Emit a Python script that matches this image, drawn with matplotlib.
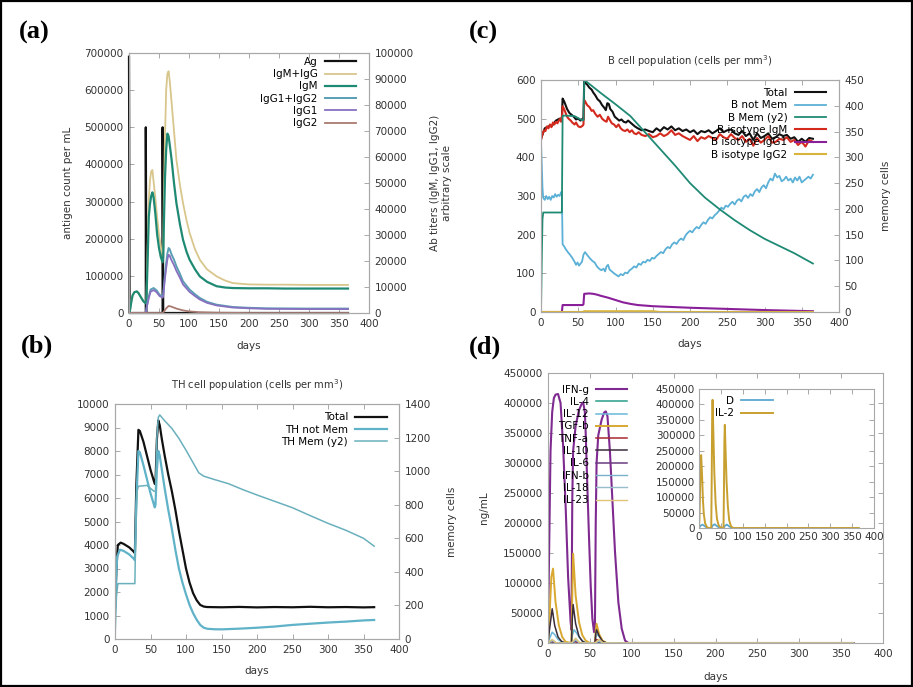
import matplotlib
matplotlib.use('Agg')
import matplotlib.pyplot as plt
from matplotlib.patches import Rectangle
from matplotlib.ticker import FuncFormatter, MultipleLocator

# ---------------- DATA ----------------
# (a) antigen & antibodies
A_AG_D = [0, 1, 28, 28, 29, 56, 56, 57, 365]
A_AG_V = [690000, 0, 0, 500000, 0, 0, 500000, 0, 0]
A_D = [0, 2, 4, 6, 9, 13, 16, 20, 24, 28, 29, 31, 33, 35, 37, 39, 41, 44, 47, 50,
       53, 56, 57, 58, 60, 62, 64, 66, 68, 71, 75, 79, 85, 90, 96, 101, 110, 118, 130, 146,
       160, 173, 200, 230, 260, 300, 330, 365]
A_IGMG_V = [0, 1500, 4500, 6800, 8000, 8300, 7600, 6000, 4500, 3800, 5000, 25000, 43500, 51000, 54500, 55000, 50500, 44000, 36500, 30000,
            25500, 22000, 25000, 43000, 68000, 86000, 92000, 93000, 89000, 81000, 70000, 59000, 49000, 42300, 35500, 30800, 24500, 20500, 16800, 14100,
            12500, 11500, 11000, 10900, 10900, 10800, 10800, 10800]
A_IGM_V = [0, 1500, 4500, 6800, 8000, 8300, 7600, 6000, 4500, 3700, 4500, 20000, 37000, 42000, 45000, 46400, 44500, 38000, 30000, 25000,
           21500, 19500, 21500, 33000, 52000, 63000, 69000, 68000, 64500, 59000, 50000, 42300, 34000, 28200, 23500, 20500, 16800, 14100, 12000, 10300,
           9800, 9600, 9500, 9500, 9400, 9400, 9400, 9400]
A_G_D = [0, 28, 30, 33, 36, 41, 46, 51, 56, 57, 58, 60, 62, 64, 66, 68, 70, 75, 79, 85,
         90, 101, 110, 118, 130, 146, 173, 200, 229, 300, 365]
A_IGG12_V = [0, 0, 3000, 6400, 9000, 9600, 8700, 7000, 6400, 7000, 10000, 15000, 19200, 23000, 25000, 24500, 23000, 20500, 18000, 15000,
             12200, 9000, 7200, 5800, 4300, 3200, 2300, 2000, 1800, 1700, 1700]
A_IGG1_V = [0, 0, 2700, 5800, 8200, 8800, 8000, 6500, 5900, 6400, 9000, 13500, 17300, 20700, 22400, 22000, 20700, 18400, 16200, 13500,
            11000, 8100, 6500, 5200, 3900, 2900, 2100, 1800, 1600, 1500, 1500]
A_IGG2_D = [0, 56, 58, 62, 66, 70, 79, 90, 101, 118, 146, 200, 365]
A_IGG2_V = [0, 0, 500, 1800, 2700, 2500, 1700, 1000, 600, 300, 100, 0, 0]

# (b) TH cells
B_TOT_D = [0, 2, 4, 8, 12, 20, 27, 28, 30, 33, 35, 40, 45, 50, 56, 57, 59, 61, 63, 66,
           70, 75, 80, 85, 90, 95, 100, 105, 110, 115, 120, 125, 130, 150, 175, 200, 225, 250, 275, 300, 325, 350, 365]
B_TOT_V = [1300, 3000, 4000, 4100, 4050, 3900, 3700, 3650, 6500, 8900, 8850, 8400, 7800, 7200, 6600, 6600, 8500, 9300, 9100, 8500,
           7800, 7000, 6300, 5500, 4600, 3800, 3000, 2400, 1950, 1650, 1450, 1380, 1360, 1350, 1365, 1345, 1360, 1350, 1370, 1350, 1360, 1345, 1355]
B_NM_D = [0, 3, 7, 12, 20, 27, 28, 30, 33, 35, 40, 45, 50, 56, 57, 59, 61, 63, 66, 70,
          75, 80, 85, 90, 95, 100, 105, 110, 115, 120, 125, 130, 140, 150, 175, 200, 225, 250, 275, 300, 325, 350, 365]
B_NM_V = [1300, 3500, 3800, 3750, 3600, 3400, 3350, 5800, 8000, 7950, 7400, 6800, 6200, 5600, 5700, 7200, 8000, 7800, 7200, 6400,
          5500, 4700, 3800, 3000, 2400, 1900, 1450, 1100, 820, 600, 480, 435, 415, 410, 440, 480, 530, 600, 650, 700, 740, 790, 810]
B_M_D = [0, 2, 4, 28, 29, 31, 33, 45, 55, 57, 59, 61, 63, 70, 80, 90, 100, 110, 118, 125,
         140, 160, 180, 200, 225, 250, 275, 300, 325, 350, 365]
B_M_V = [0, 250, 330, 330, 600, 880, 910, 915, 880, 880, 1200, 1320, 1335, 1300, 1255, 1195, 1125, 1050, 990, 970,
         950, 925, 890, 858, 820, 782, 735, 689, 648, 600, 553]

# (c) B cells
C_TOT_D = [0, 5, 10, 15, 20, 25, 28, 29, 31, 33, 35, 38, 41, 44, 47, 50, 53, 56, 57, 58,
           60, 62, 65, 68, 70, 73, 76, 79, 82, 85, 87, 89, 91, 93, 96, 99, 102, 105, 108, 111,
           114, 117, 120, 123, 126, 130, 135, 140, 145, 150, 155, 160, 165, 170, 175, 180, 185, 190, 195, 200,
           205, 210, 215, 220, 225, 230, 235, 240, 245, 250, 255, 260, 265, 270, 275, 280, 285, 290, 295, 300,
           305, 310, 315, 320, 325, 330, 335, 340, 345, 350, 355, 360, 365]
C_TOT_V = [448, 475, 480, 482, 495, 500, 500, 552, 545, 535, 525, 515, 510, 505, 498, 500, 495, 500, 498, 598,
           592, 588, 580, 575, 568, 560, 550, 545, 535, 528, 522, 540, 538, 525, 518, 505, 500, 495, 498, 492,
           490, 495, 490, 485, 480, 475, 470, 472, 468, 465, 475, 468, 478, 472, 480, 470, 475, 468, 472, 465,
           470, 460, 468, 465, 470, 462, 468, 475, 465, 470, 472, 462, 458, 468, 455, 462, 445, 462, 450, 455,
           462, 448, 452, 460, 455, 458, 448, 452, 440, 448, 440, 450, 448]
C_IGM_D = [0, 2, 4, 6, 8, 10, 12, 14, 16, 18, 20, 22, 24, 26, 27, 28, 29, 31, 33, 35,
           37, 40, 42, 45, 47, 50, 53, 56, 57, 58, 60, 62, 65, 68, 70, 73, 76, 79, 82, 85,
           88, 90, 92, 95, 98, 101, 104, 107, 110, 113, 116, 119, 122, 125, 128, 131, 135, 140, 145, 150,
           155, 160, 165, 170, 175, 180, 185, 190, 195, 200, 205, 210, 215, 220, 225, 230, 235, 240, 245, 250,
           255, 260, 265, 270, 275, 280, 285, 290, 295, 300, 305, 310, 315, 320, 325, 330, 335, 340, 345, 350,
           355, 360, 365]
C_IGM_V = [445, 460, 470, 468, 480, 475, 485, 478, 490, 485, 492, 488, 495, 500, 492, 498, 532, 525, 515, 505,
           500, 495, 490, 485, 490, 480, 478, 482, 485, 548, 542, 535, 530, 520, 522, 512, 505, 510, 500, 495,
           492, 505, 498, 488, 485, 478, 485, 475, 470, 468, 472, 465, 470, 462, 460, 465, 458, 455, 460, 452,
           455, 462, 455, 460, 470, 458, 462, 455, 450, 445, 455, 442, 452, 448, 455, 450, 445, 460, 452, 448,
           460, 450, 445, 455, 440, 448, 430, 450, 438, 445, 455, 438, 440, 448, 445, 452, 440, 445, 432, 440,
           428, 445, 440]
C_NM_D = [0, 1, 2, 3, 5, 7, 9, 11, 13, 15, 17, 19, 21, 23, 25, 27, 28, 29, 31, 33,
          36, 39, 42, 45, 47, 49, 51, 53, 55, 57, 59, 61, 63, 66, 69, 72, 75, 78, 81, 84,
          86, 88, 90, 92, 95, 98, 101, 104, 107, 110, 113, 116, 119, 122, 125, 128, 131, 134, 137, 140,
          143, 146, 149, 152, 155, 158, 161, 164, 167, 170, 173, 176, 179, 182, 185, 188, 191, 194, 197, 200,
          203, 206, 209, 212, 215, 218, 221, 224, 227, 230, 233, 236, 239, 242, 245, 248, 251, 254, 257, 260,
          263, 266, 269, 272, 275, 278, 281, 284, 287, 290, 293, 296, 299, 302, 305, 308, 311, 314, 317, 320,
          323, 326, 329, 332, 335, 338, 341, 344, 347, 350, 353, 356, 359, 362, 365]
C_NM_V = [440, 380, 320, 295, 290, 300, 292, 298, 290, 300, 296, 305, 298, 303, 300, 310, 308, 175, 170, 163,
          155, 148, 140, 130, 122, 128, 120, 125, 130, 148, 155, 150, 145, 138, 132, 128, 118, 112, 108, 112,
          105, 118, 122, 110, 105, 100, 96, 92, 98, 95, 102, 100, 108, 112, 118, 115, 125, 122, 130, 128,
          135, 132, 140, 138, 145, 150, 155, 152, 162, 168, 165, 175, 180, 176, 185, 190, 186, 198, 205, 210,
          206, 214, 220, 216, 225, 232, 228, 238, 245, 242, 250, 255, 262, 270, 266, 275, 272, 280, 285, 278,
          288, 292, 286, 298, 302, 295, 305, 300, 312, 318, 310, 322, 328, 320, 335, 345, 340, 358, 348, 352,
          338, 342, 350, 340, 345, 335, 348, 340, 350, 335, 340, 345, 350, 345, 355]
C_M_D = [0, 1, 2, 3, 28, 29, 30, 45, 50, 55, 57, 58, 60, 80, 100, 120, 140, 160, 180, 200,
         220, 240, 260, 280, 300, 320, 340, 365]
C_M_V = [0, 100, 180, 193, 193, 380, 381, 380, 376, 372, 372, 450, 448, 425, 403, 380, 348, 316, 284, 250,
         222, 199, 178, 159, 142, 128, 114, 94]
C_G1_D = [0, 28, 29, 56, 57, 58, 65, 70, 75, 80, 90, 100, 110, 120, 130, 150, 175, 200, 250, 300, 365]
C_G1_V = [0, 0, 18, 18, 20, 47, 48, 47, 45, 42, 37, 31, 25, 21, 18, 15, 13, 11, 8, 5, 2]
C_G2_D = [0, 56, 58, 150, 160, 365]
C_G2_V = [0, 0, 2, 2, 0, 0]

# (d) cytokines
D_IFNG_D = [0, 1, 3, 5, 7, 9, 12, 15, 18, 21, 24, 27, 28, 29, 30, 33, 37, 40, 42, 44,
            45, 47, 49, 51, 53, 55, 56, 57, 58, 60, 64, 67, 69, 71, 74, 77, 80, 84, 88, 92, 96, 365]
D_IFNG_V = [15000, 120000, 320000, 385000, 408000, 414000, 415000, 400000, 330000, 230000, 110000, 35000, 22000, 240000, 320000, 362000, 388000, 398000, 401000, 385000,
            350000, 260000, 175000, 95000, 40000, 18000, 22000, 200000, 300000, 346000, 372000, 384000, 386000, 378000, 318000, 235000, 152000, 68000, 24000, 4000, 0, 0]
D_IL4_D = [0, 5, 10, 28, 33, 38, 56, 61, 66, 365]
D_IL4_V = [0, 2000, 0, 0, 2500, 0, 0, 1500, 0, 0]
D_IL12_D = [0, 2, 5, 8, 12, 16, 20, 28, 29, 31, 34, 38, 42, 46, 56, 57, 59, 62, 66, 70, 365]
D_IL12_V = [0, 8000, 18000, 14000, 6000, 2000, 0, 0, 12000, 22000, 17000, 8000, 2500, 0, 0, 9000, 15000, 9000, 3000, 0, 0]
D_TGFB_D = [0, 2, 4, 6, 9, 13, 17, 21, 28, 29, 30, 33, 37, 41, 45, 50, 56, 57, 58, 61, 65, 70, 365]
D_TGFB_V = [0, 50000, 110000, 124000, 68000, 29000, 10000, 2000, 0, 80000, 149000, 79000, 35000, 13000, 4000, 0, 0, 20000, 32000, 15000, 4000, 0, 0]
D_TNFA_D = [0, 4, 8, 28, 31, 35, 56, 58, 62, 66, 365]
D_TNFA_V = [0, 3000, 0, 0, 4000, 0, 0, 6000, 2000, 0, 0]
D_IL10_D = [0, 2, 5, 8, 12, 16, 20, 28, 29, 30, 33, 37, 41, 45, 56, 57, 58, 61, 65, 70, 365]
D_IL10_V = [0, 25000, 57000, 29000, 10000, 3000, 0, 0, 40000, 64000, 32000, 11000, 3000, 0, 0, 15000, 22000, 12000, 3000, 0, 0]
D_IL6_D = [0, 5, 10, 28, 33, 38, 56, 61, 66, 365]
D_IL6_V = [0, 3000, 0, 0, 3500, 0, 0, 2500, 0, 0]
D_IFNB_D = [0, 5, 10, 28, 33, 38, 56, 61, 66, 365]
D_IFNB_V = [0, 4000, 0, 0, 5000, 0, 0, 3000, 0, 0]
D_IL18_D = [0, 5, 10, 28, 33, 38, 56, 61, 66, 365]
D_IL18_V = [0, 5000, 0, 0, 6000, 0, 0, 4000, 0, 0]
D_IL23_D = [0, 5, 10, 28, 33, 38, 56, 61, 66, 365]
D_IL23_V = [0, 6000, 0, 0, 8000, 0, 0, 6000, 0, 0]
D_IL2_D = [0, 1, 2, 3, 4, 5, 7, 9, 11, 14, 18, 22, 28, 29, 30, 31, 33, 35, 38, 41,
           45, 50, 56, 57, 58, 59, 61, 63, 66, 69, 73, 78, 365]
D_IL2_V = [0, 30000, 90000, 170000, 225000, 236000, 170000, 90000, 45000, 15000, 3000, 0, 0, 150000, 350000, 415000, 300000, 180000, 80000, 30000,
           8000, 1000, 0, 120000, 280000, 334000, 240000, 150000, 70000, 25000, 6000, 0, 0]
D_D_D = [0, 4, 8, 13, 20, 28, 32, 36, 41, 48, 56, 60, 64, 69, 76, 365]
D_D_V = [0, 8000, 11000, 6000, 0, 0, 9000, 12000, 6000, 0, 0, 8000, 11000, 5000, 0, 0]

# ---------------- STYLE ----------------
W, H = 913, 687
fig = plt.figure(figsize=(W / 100, H / 100), dpi=100)
fig.patch.set_facecolor('white')

GRAY = '#a8a8a8'
TXT = '#333333'
FS = 7.5
plain = FuncFormatter(lambda v, p: f'{v:.0f}')


def rect(l, t, r, b):
    return [l / W, 1 - b / H, (r - l) / W, (b - t) / H]


def style(ax, mirror_y=True):
    for s in ax.spines.values():
        s.set_color(GRAY)
        s.set_linewidth(0.8)
    ax.tick_params(direction='in', length=3.5, width=0.7, color=GRAY, labelsize=FS,
                   labelcolor=TXT, top=True, right=mirror_y, pad=4)
    ax.yaxis.set_major_formatter(plain)
    ax.xaxis.set_major_formatter(plain)


def style2(ax2):
    for s in ax2.spines.values():
        s.set_color(GRAY)
        s.set_linewidth(0.8)
    ax2.tick_params(direction='in', length=3.5, width=0.7, color=GRAY, labelsize=FS,
                    labelcolor=TXT, right=True, left=False, pad=4)
    ax2.yaxis.set_major_formatter(plain)


def legend(ax, handles, anchor, **kw):
    return ax.legend(handles=handles, loc='upper right', bbox_to_anchor=anchor, frameon=False,
                     markerfirst=False, fontsize=FS, handlelength=3.0, handletextpad=0.7,
                     labelspacing=0.22, borderaxespad=0, borderpad=0, **kw)


def panel_label(x, y, s):
    fig.text(x / W, 1 - y / H, s, fontsize=19, fontweight='bold', family='Liberation Serif',
             ha='left', va='center', color='black')

# ---------------- (a) ----------------
axa = fig.add_axes(rect(129, 53, 369, 313))
style(axa, mirror_y=False)
axa.set_xlim(0, 400)
axa.set_ylim(0, 700000)
axa.xaxis.set_major_locator(MultipleLocator(50))
axa.yaxis.set_major_locator(MultipleLocator(100000))
axa.set_ylabel('antigen count per mL', fontsize=FS, color=TXT, labelpad=8)
axa.set_xlabel('days', fontsize=FS, color=TXT, labelpad=9)
axa2 = axa.twinx()
style2(axa2)
axa2.set_ylim(0, 100000)
axa2.yaxis.set_major_locator(MultipleLocator(10000))
axa2.set_ylabel('Ab titers (IgM, IgG1, IgG2)\narbitrary scale', fontsize=FS, color=TXT, labelpad=12)
ha1, = axa.plot(A_AG_D, A_AG_V, color='#111111', lw=1.6, label='Ag', clip_on=False, zorder=5)
ha2, = axa2.plot(A_D, A_IGMG_V, color='#d8c68c', lw=1.3, label='IgM+IgG')
ha3, = axa2.plot(A_D, A_IGM_V, color='#1f8a74', lw=1.6, label='IgM')
ha4, = axa2.plot(A_G_D, A_IGG12_V, color='#5a9fb4', lw=1.4, label='IgG1+IgG2')
ha5, = axa2.plot(A_G_D, A_IGG1_V, color='#8870c0', lw=1.3, label='IgG1')
ha6, = axa2.plot(A_IGG2_D, A_IGG2_V, color='#a87a70', lw=1.3, label='IgG2')
legend(axa2, [ha1, ha2, ha3, ha4, ha5, ha6], (0.946, 0.985))

# ---------------- (c) ----------------
axc = fig.add_axes(rect(541, 80, 839, 312))
style(axc, mirror_y=False)
axc.set_xlim(0, 400)
axc.set_ylim(0, 600)
axc.xaxis.set_major_locator(MultipleLocator(50))
axc.yaxis.set_major_locator(MultipleLocator(100))
axc.set_xlabel('days', fontsize=FS, color=TXT, labelpad=8)
axc.set_title('B cell population (cells per mm$^3$)', fontsize=7.2, color=TXT, pad=11)
axc2 = axc.twinx()
style2(axc2)
axc2.set_ylim(0, 450)
axc2.yaxis.set_major_locator(MultipleLocator(50))
axc2.set_ylabel('memory cells', fontsize=FS, color=TXT, labelpad=12)
hc1, = axc.plot(C_TOT_D, C_TOT_V, color='#111111', lw=1.5, label='Total')
hc2, = axc.plot(C_NM_D, C_NM_V, color='#5ab0d6', lw=1.3, label='B not Mem')
hc3, = axc2.plot(C_M_D, C_M_V, color='#1f8a74', lw=1.3, label='B Mem (y2)')
hc4, = axc.plot(C_IGM_D, C_IGM_V, color='#d42a1e', lw=1.5, label='B isotype IgM')
hc5, = axc.plot(C_G1_D, C_G1_V, color='#8a1f9a', lw=1.5, label='B isotype IgG1')
hc6, = axc.plot(C_G2_D, C_G2_V, color='#d8b43a', lw=1.5, label='B isotype IgG2')
legend(axc2, [hc1, hc2, hc3, hc4, hc5, hc6], (0.956, 0.965))

# ---------------- (b) ----------------
axb = fig.add_axes(rect(115, 404, 399, 639))
style(axb, mirror_y=False)
axb.set_xlim(0, 400)
axb.set_ylim(0, 10000)
axb.xaxis.set_major_locator(MultipleLocator(50))
axb.yaxis.set_major_locator(MultipleLocator(1000))
axb.set_xlabel('days', fontsize=FS, color=TXT, labelpad=8)
axb.set_title('TH cell population (cells per mm$^3$)', fontsize=7.2, color=TXT, pad=11)
axb2 = axb.twinx()
style2(axb2)
axb2.set_ylim(0, 1400)
axb2.yaxis.set_major_locator(MultipleLocator(200))
axb2.set_ylabel('memory cells', fontsize=FS, color=TXT, labelpad=12)
hb1, = axb.plot(B_TOT_D, B_TOT_V, color='#111111', lw=1.6, label='Total')
hb2, = axb.plot(B_NM_D, B_NM_V, color='#5fb2c8', lw=1.6, label='TH not Mem')
hb3, = axb2.plot(B_M_D, B_M_V, color='#6ab0bc', lw=1.1, label='TH Mem (y2)')
legend(axb2, [hb1, hb2, hb3], (0.956, 0.965))

# ---------------- (d) ----------------
axd = fig.add_axes(rect(548, 373, 883, 643))
style(axd, mirror_y=True)
axd.set_xlim(0, 400)
axd.set_ylim(0, 450000)
axd.xaxis.set_major_locator(MultipleLocator(50))
axd.yaxis.set_major_locator(MultipleLocator(50000))
axd.set_xlabel('days', fontsize=FS, color=TXT, labelpad=10)
axd.set_ylabel('ng/mL', fontsize=FS, color=TXT, labelpad=10)
cyt = [
    (D_IFNG_D, D_IFNG_V, '#7e2a90', 1.5, 'IFN-g'),
    (D_IL4_D, D_IL4_V, '#2a9d8a', 1.1, 'IL-4'),
    (D_IL12_D, D_IL12_V, '#6ab8d8', 1.1, 'IL-12'),
    (D_TGFB_D, D_TGFB_V, '#d8a830', 1.4, 'TGF-b'),
    (D_TNFA_D, D_TNFA_V, '#a82830', 1.1, 'TNF-a'),
    (D_IL10_D, D_IL10_V, '#3a2c3a', 1.1, 'IL-10'),
    (D_IL6_D, D_IL6_V, '#6a3a80', 1.1, 'IL-6'),
    (D_IFNB_D, D_IFNB_V, '#7ab2cc', 1.0, 'IFN-b'),
    (D_IL18_D, D_IL18_V, '#98bccc', 1.0, 'IL-18'),
    (D_IL23_D, D_IL23_V, '#e0c478', 1.0, 'IL-23'),
]
hd = []
for dd, vv, c, lw, lab in cyt:
    h, = axd.plot(dd, vv, color=c, lw=lw, label=lab)
    hd.append(h)
legend(axd, hd, (0.236, 0.957))

axi = fig.add_axes(rect(699, 389, 874, 528))
style(axi, mirror_y=True)
axi.set_xlim(0, 400)
axi.set_ylim(0, 450000)
axi.xaxis.set_major_locator(MultipleLocator(50))
axi.yaxis.set_major_locator(MultipleLocator(50000))
axi.tick_params(pad=3)
hi1, = axi.plot(D_D_D, D_D_V, color='#5aa8d0', lw=1.3, label='D')
hi2, = axi.plot(D_IL2_D, D_IL2_V, color='#c8a030', lw=1.4, label='IL-2')
legend(axi, [hi1, hi2], (0.42, 0.95))

# ---------------- labels & border ----------------
panel_label(19, 32, '(a)')
panel_label(469, 32, '(c)')
panel_label(21, 346, '(b)')
panel_label(469, 347, '(d)')
fig.add_artist(Rectangle((0.0015, 0.002), 0.997, 0.996, transform=fig.transFigure,
                         fill=False, ec='black', lw=1.6))

fig.savefig('out.png', dpi=100)
